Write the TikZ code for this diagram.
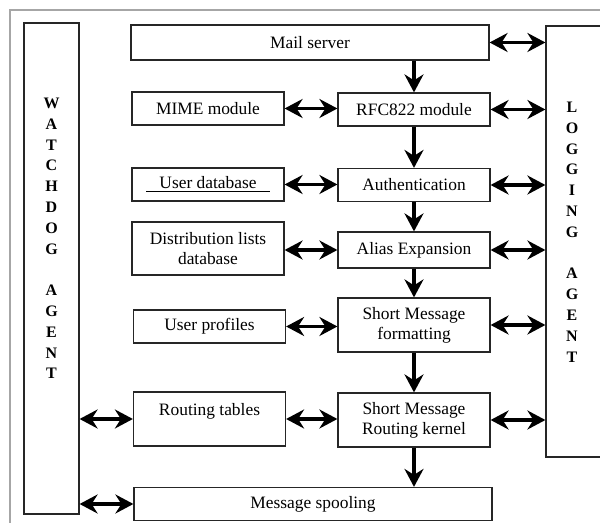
\documentclass[tikz,border=0pt]{standalone}
\usepackage{fontspec}
\setmainfont{Liberation Serif}
\usetikzlibrary{arrows.meta,shapes,backgrounds,fit}

\begin{document}
\begin{tikzpicture}[x=0.5pt,y=-0.5pt]
		\tikzstyle{module}=[draw=black!85, line width=0.6pt, inner sep=1pt, align=center, font=\fontsize{8.7}{10}\selectfont, minimum width=76pt, minimum height=16.5pt]
		\tikzstyle{wide_module}=[module, minimum width=179pt]
		\tikzstyle{tall_module}=[module, minimum height=27pt]
		\tikzstyle{agent}=[draw=black!85, line width=0.6pt, minimum width=27.5pt]
		\tikzstyle{agent_text}=[align=center, inner sep=0pt, font=\fontsize{8}{10.4}\selectfont\bfseries]
		\tikzstyle{flow}=[line width=1.6pt, -{Stealth[length=9pt,width=9.5pt,inset=3pt]}]
		\tikzstyle{link}=[flow, {Stealth[length=9pt,width=9.5pt,inset=3pt]}-{Stealth[length=9pt,width=9.5pt,inset=3pt]}]

		\useasboundingbox (0,0) rectangle (600,523);
		\clip (0,0) rectangle (600,523);
		\draw [gray!70, line width=0.9pt] (10,10) rectangle (612,535);

		\begin{scope}
			\node [wide_module, minimum height=17.5pt] (mail) at (310,42.5) {Mail server};
			\node [module] (rfc) at (414,109.5) {RFC822 module};
			\node [module] (auth) at (414,185) {Authentication};
			\node [module, minimum height=18pt] (alias) at (414,250) {Alias Expansion};
			\node [tall_module] (fmt) at (414,325) {Short Message\\formatting};
			\node [tall_module] (kern) at (414,420) {Short Message\\Routing kernel};
			\node [wide_module] (spool) at (313,504) {Message spooling};
		\end{scope}

		\begin{scope}
			\node [module] (mime) at (208,108.5) {MIME module};
			\node [module] (udb) at (208,184.5) {\underline{\makebox[1.27\width]{User database}}};
			\node [module, minimum height=26.5pt] (dist) at (208,248.5) {Distribution lists\\database};
			\node [module] (prof) at (209.5,326.5) {User profiles};
			\node [tall_module] (rtab) at (209.5,419) {Routing tables\\\phantom{R}};
		\end{scope}

		\begin{scope}
			\node [agent, minimum height=245.5pt] (wd) at (51.5,268.5) {};
			\node [agent_text] at (51.5,238.5) {W\\A\\T\\C\\H\\D\\O\\G\\[10.4pt]A\\G\\E\\N\\T};
			\node [agent, minimum width=36pt, minimum height=215.5pt] (log) at (582,241.5) {};
			\node [agent_text] at (572,232) {L\\O\\G\\G\\I\\N\\G\\[10.4pt]A\\G\\E\\N\\T};
		\end{scope}

		\draw [flow] (rfc.north |- mail.south) -- (rfc.north);
		\draw [flow] (rfc.south) -- (auth.north);
		\draw [flow] (auth.south) -- (alias.north);
		\draw [flow] (alias.south) -- (fmt.north);
		\draw [flow] (fmt.south) -- (kern.north);
		\draw [flow] (kern.south) -- (kern.south |- spool.north);

		\draw [link] (mime.east) -- (mime.east -| rfc.west);
		\draw [link] (udb.east) -- (udb.east -| auth.west);
		\draw [link] (alias.west -| dist.east) -- (alias.west);
		\draw [link] (prof.east) -- (prof.east -| fmt.west);
		\draw [link] (rtab.east) -- (rtab.east -| kern.west);

		\foreach \m in {mail,rfc,auth,alias,fmt,kern}
			\draw [link] (\m.east) -- (\m.east -| log.west);

		\draw [link] (wd.east |- rtab.west) -- (rtab.west);
		\draw [link] (wd.east |- spool.west) -- (spool.west);
	\end{tikzpicture}
\end{document}
